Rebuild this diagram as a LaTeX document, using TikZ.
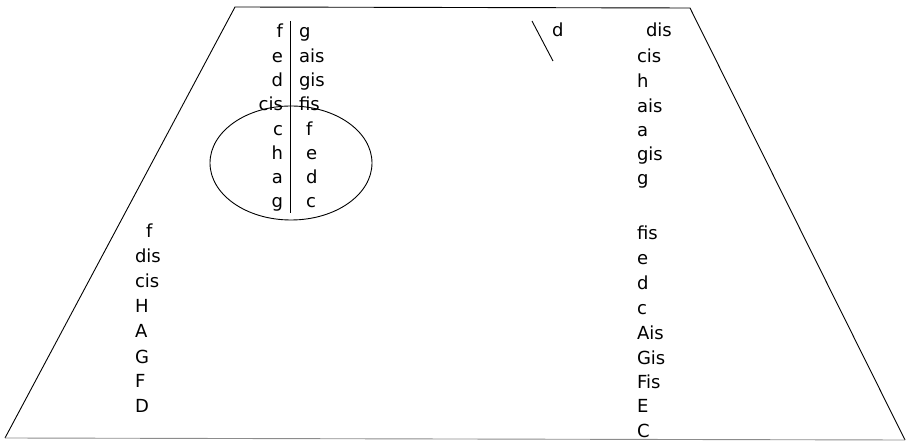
\documentclass[tikz,border=0pt]{standalone}
\usepackage{fontspec}
\setmainfont{DejaVu Sans}
\begin{document}
\begin{tikzpicture}[x=1pt,y=-1pt,
  lbl/.style={inner sep=0pt,outer sep=0pt,font=\fontsize{18}{22}\selectfont},
  le/.style={lbl,anchor=base east},
  lw/.style={lbl,anchor=base west},
  ln/.style={line width=0.9pt,black}]
\useasboundingbox (0,0) rectangle (908,443);
% trapezoid
\draw[ln] (5,438) -- (235,7) -- (690,8) -- (905,440);
\draw[line width=0.9pt,black!45] (5,438) -- (905,440);
% left column in ellipse
\node[le] (l1) at (283,38) {f};
\node[le] (l2) at (283,62.5) {e};
\node[le] (l3) at (283,87) {d};
\node[le] (l4) at (283,111) {cis};
\node[le] (l5) at (283,135.5) {c};
\node[le] (l6) at (283,160) {h};
\node[le] (l7) at (283,184) {a};
\node[le] (l8) at (283,208) {g};
% right column in ellipse
\node[lw] (r1) at (299,38) {g};
\node[lw] (r2) at (299,62.5) {ais};
\node[lw] (r3) at (299,87) {gis};
\node[lw] (r4) at (299,111) {fis};
\node[lw] (r5) at (306,135.5) {f};
\node[lw] (r6) at (306,160) {e};
\node[lw] (r7) at (306,184) {d};
\node[lw] (r8) at (306,208) {c};
% separator and ellipse
\coordinate (vt) at (290,21);
\coordinate (vb) at (290,213);
\draw[ln] (vt) -- (vb);
\draw[ln] (291,163) ellipse [x radius=81, y radius=57];
% short slash and d
\coordinate (st) at (532,21);
\coordinate (sb) at (553,61);
\draw[ln] (st) -- (sb);
\node[lw] (dd) at (552,37) {d};
% right column
\node[lw] (a1) at (646,37) {dis};
\node[lw] (a2) at (637,62.5) {cis};
\node[lw] (a3) at (637,88) {h};
\node[lw] (a4) at (637,113) {ais};
\node[lw] (a5) at (637,137) {a};
\node[lw] (a6) at (637,161) {gis};
\node[lw] (a7) at (637,185) {g};
\node[lw] (b1) at (637,240) {fis};
\node[lw] (b2) at (637,265) {e};
\node[lw] (b3) at (637,290) {d};
\node[lw] (b4) at (637,315) {c};
\node[lw] (b5) at (637,340) {Ais};
\node[lw] (b6) at (637,364.5) {Gis};
\node[lw] (b7) at (637,388.5) {Fis};
\node[lw] (b8) at (637,413) {E};
\node[lw] (b9) at (637,438) {C};
% left lower column
\node[lw] (c1) at (146,238) {f};
\node[lw] (c2) at (135,263) {dis};
\node[lw] (c3) at (135,288) {cis};
\node[lw] (c4) at (135,313) {H};
\node[lw] (c5) at (135,338) {A};
\node[lw] (c6) at (135,364) {G};
\node[lw] (c7) at (135,388) {F};
\node[lw] (c8) at (135,413) {D};
\end{tikzpicture}
\end{document}
